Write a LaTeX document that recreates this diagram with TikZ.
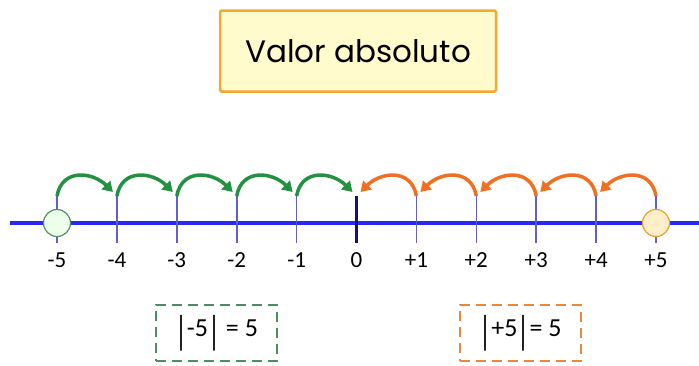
\documentclass[tikz,border=0pt]{standalone}
\usepackage{fontspec}
\setmainfont{Carlito}
\newfontfamily\titlefont{Poppins}
\usetikzlibrary{arrows.meta,positioning}
\definecolor{axisblue}{RGB}{40,40,245}
\definecolor{tickblue}{RGB}{95,95,205}
\definecolor{zeronavy}{RGB}{20,20,110}
\definecolor{jumpgreen}{RGB}{35,145,65}
\definecolor{jumporange}{RGB}{240,112,35}
\definecolor{boxgreen}{RGB}{70,145,95}
\definecolor{boxorange}{RGB}{238,135,55}
\definecolor{titlefill}{RGB}{255,251,205}
\definecolor{titledraw}{RGB}{245,168,45}
\newcommand{\absbar}{\raisebox{-0.28em}{\scalebox{1}[1.55]{|}}}
\tikzset{
    titlebox/.style={
        rectangle,
        rounded corners=1.5pt,
        draw=titledraw,
        fill=titlefill,
        line width=2.5pt,
        minimum width=276pt,
        minimum height=81pt,
        font=\titlefont\fontsize{31}{36}\selectfont
    },
    numlabel/.style={font=\fontsize{23}{26}\selectfont, inner sep=0pt},
    resultbox/.style={
        rectangle,
        dashed,
        dash pattern=on 10pt off 6pt,
        line width=2.3pt,
        fill=white,
        minimum width=121pt,
        minimum height=56pt,
        font=\fontsize{26}{30}\selectfont
    },
    greenbox/.style={resultbox, draw=boxgreen},
    orangebox/.style={resultbox, draw=boxorange},
    endcircle/.style={circle, minimum size=27pt, inner sep=0pt, line width=1.2pt},
    tickline/.style={draw=tickblue, line width=1.6pt},
    greenjump/.style={-{Triangle[length=10pt,width=12pt]}, line width=3.5pt, draw=jumpgreen},
    orangejump/.style={-{Triangle[length=10pt,width=12pt]}, line width=3.5pt, draw=jumporange},
}

\begin{document}
\begin{tikzpicture}[x=1pt, y=-1pt]
    \useasboundingbox (0,0) rectangle (699,365);

    \node[titlebox] (title) at (358,51) {Valor absoluto};

    % number line
    \coordinate (lineL) at (10,223);
    \coordinate (lineR) at (699,223);
    \draw[axisblue, line width=3.5pt] (lineL) -- (lineR);

    \foreach \i/\lab in {0/-5,1/-4,2/-3,3/-2,4/-1,5/0,6/+1,7/+2,8/+3,9/+4,10/+5} {
        \pgfmathsetmacro{\xx}{57+59.9*\i}
        \coordinate (u\i) at (\xx,196);
        \coordinate (d\i) at (\xx,243);
        \node[numlabel] (lab\i) at (\xx,260) {\lab};
    }
    \foreach \i in {1,2,3,4,6,7,8,9,0,10} {
        \draw[tickline] (u\i) -- (d\i);
    }
    \draw[zeronavy, line width=3pt] (u5) -- (d5);

    \node[endcircle, draw=boxgreen!70!gray, fill=green!8!white] (cneg) at (57,223) {};
    \node[endcircle, draw=titledraw!80!brown, fill=titlefill!80!orange!60!white] (cpos) at (656,223) {};

    % jumps towards zero
    \foreach \i [evaluate=\i as \j using int(\i+1)] in {0,...,4} {
        \draw[greenjump] (u\i) to[out=80,in=135,looseness=1.3] ([xshift=-4pt,yshift=4pt]u\j);
    }
    \foreach \i [evaluate=\i as \j using int(\i-1)] in {10,9,...,6} {
        \draw[orangejump] (u\i) to[out=100,in=45,looseness=1.3] ([xshift=4pt,yshift=4pt]u\j);
    }

    \node[greenbox] (absneg) at (216.5,333) {\absbar-5\absbar\ = 5};
    \node[orangebox] (abspos) at (520.5,333) {\absbar+5\absbar= 5};
\end{tikzpicture}
\end{document}
